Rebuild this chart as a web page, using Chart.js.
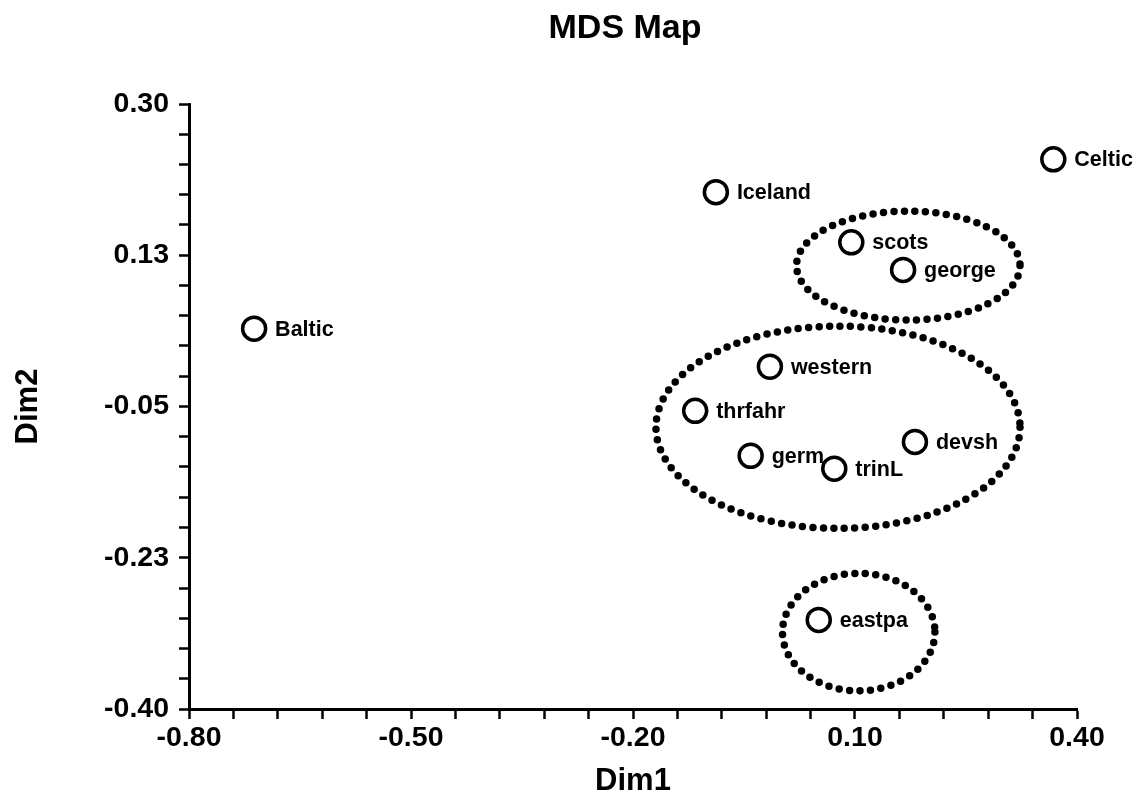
<!DOCTYPE html>
<html>
<head>
<meta charset="utf-8">
<script src="https://cdn.jsdelivr.net/npm/chart.js@4.4.1/dist/chart.umd.min.js"></script>
<style>
  html, body { margin: 0; padding: 0; background: #fff; }
  #wrap { width: 1142px; height: 800px; }
</style>
</head>
<body>
<div id="wrap"><canvas id="mds"></canvas></div>
<script>
// ── MDS-koordinater per grupp ───────────────────────────────────────────────
const names = ['Baltic', 'Iceland', 'Celtic', 'scots', 'george', 'western', 'thrfahr', 'germ', 'trinL', 'devsh', 'eastpa'];
const dim1  = [-0.712, -0.088, 0.368, 0.095, 0.165, -0.015, -0.116, -0.041, 0.072, 0.181, 0.051];
const dim2  = [ 0.040,  0.198, 0.236, 0.140, 0.108, -0.004, -0.055, -0.107, -0.122, -0.091, -0.297];

// kluster-ringar (centrum och halvaxlar i dataenheter)
const ringCx = [0.172, 0.077, 0.105];
const ringCy = [0.113, -0.074, -0.311];
const ringRx = [0.151, 0.246, 0.103];
const ringRy = [0.063, 0.117, 0.068];

// axelmarkeringar, etikett på var femte
const xMajor  = [-0.80, -0.50, -0.20, 0.10, 0.40];
const xLabels = ['-0.80', '-0.50', '-0.20', '0.10', '0.40'];
const yMajor  = [-0.40, -0.225, -0.05, 0.125, 0.30];
const yLabels = ['-0.40', '-0.23', '-0.05', '0.13', '0.30'];
const MINOR_PER_MAJOR = 5;

const TITLE = 'MDS Map';
const FONT = "'Liberation Sans', Arial, Helvetica, sans-serif";

function withMinor(major) {
  const out = [];
  for (let i = 0; i < major.length - 1; i++) {
    const step = (major[i + 1] - major[i]) / MINOR_PER_MAJOR;
    for (let k = 0; k < MINOR_PER_MAJOR; k++) out.push(major[i] + k * step);
  }
  out.push(major[major.length - 1]);
  return out;
}

function tickLabel(labels) {
  return (v, i) => (i % MINOR_PER_MAJOR === 0 ? labels[i / MINOR_PER_MAJOR] : '');
}

// rubriken centreras över plotytan, inte över hela canvasen
const plotTitle = {
  id: 'plotTitle',
  afterDraw(chart) {
    const { ctx, chartArea } = chart;
    ctx.save();
    ctx.fillStyle = '#000';
    ctx.font = 'bold 34px ' + FONT;
    ctx.textAlign = 'center';
    ctx.textBaseline = 'middle';
    ctx.fillText(TITLE, (chartArea.left + chartArea.right) / 2 - 8, 29);
    ctx.restore();
  }
};

// prickade ringar runt klustren
const ringPlugin = {
  id: 'rings',
  afterDatasetsDraw(chart) {
    const { ctx, scales: { x, y } } = chart;
    ctx.save();
    ctx.strokeStyle = '#000';
    ctx.lineWidth = 7.5;
    ctx.lineCap = 'round';
    ctx.setLineDash([0, 10.5]);
    ringCx.forEach((cx, i) => {
      const px = x.getPixelForValue(cx), py = y.getPixelForValue(ringCy[i]);
      const rx = Math.abs(x.getPixelForValue(cx + ringRx[i]) - px);
      const ry = Math.abs(y.getPixelForValue(ringCy[i] + ringRy[i]) - py);
      ctx.beginPath();
      ctx.ellipse(px, py, rx, ry, 0, 0, Math.PI * 2);
      ctx.stroke();
    });
    ctx.restore();
  }
};

// namn till höger om varje punkt
const nameLabels = {
  id: 'nameLabels',
  afterDatasetsDraw(chart) {
    const { ctx } = chart;
    const meta = chart.getDatasetMeta(0);
    ctx.save();
    ctx.fillStyle = '#000';
    ctx.font = 'bold 21.5px ' + FONT;
    ctx.textAlign = 'left';
    ctx.textBaseline = 'middle';
    meta.data.forEach((pt, i) => ctx.fillText(names[i], pt.x + 21, pt.y + 1));
    ctx.restore();
  }
};

const axisGrid = { display: true, drawOnChartArea: false, drawTicks: true, tickLength: 10, tickWidth: 2.5, tickColor: '#000' };
const axisBorder = { display: true, color: '#000', width: 3 };
const tickFont = { family: FONT, size: 28.5, weight: 'bold' };
const titleFont = { family: FONT, size: 31, weight: 'bold' };

new Chart(document.getElementById('mds'), {
  type: 'scatter',
  data: {
    datasets: [{
      data: names.map((n, i) => ({ x: dim1[i], y: dim2[i] })),
      pointRadius: 11.5,
      pointHoverRadius: 11.5,
      pointBorderWidth: 3.5,
      pointBorderColor: '#000',
      pointBackgroundColor: '#fff',
      clip: false
    }]
  },
  options: {
    responsive: true,
    maintainAspectRatio: false,
    animation: false,
    events: [],
    layout: { padding: { top: 104, right: 65, bottom: 0, left: 0 } },
    plugins: {
      legend: { display: false },
      tooltip: { enabled: false },
      title: { display: false }
    },
    scales: {
      x: {
        type: 'linear', min: -0.80, max: 0.40,
        grid: axisGrid, border: axisBorder,
        afterBuildTicks: s => { s.ticks = withMinor(xMajor).map(v => ({ value: v })); },
        afterFit: s => { s.height = 91; },
        ticks: { autoSkip: false, maxRotation: 0, padding: 2, color: '#000', font: tickFont, callback: tickLabel(xLabels) },
        title: { display: true, text: 'Dim1', color: '#000', font: titleFont, padding: { top: 0, bottom: 0 } }
      },
      y: {
        type: 'linear', min: -0.40, max: 0.30,
        grid: axisGrid, border: axisBorder,
        afterBuildTicks: s => { s.ticks = withMinor(yMajor).map(v => ({ value: v })); },
        afterFit: s => { s.width = 189; },
        ticks: { autoSkip: false, padding: 10, color: '#000', font: tickFont, callback: tickLabel(yLabels) },
        title: { display: true, text: 'Dim2', color: '#000', font: titleFont, padding: { top: 10, bottom: 0 } }
      }
    }
  },
  plugins: [ringPlugin, nameLabels, plotTitle]
});
</script>
</body>
</html>
